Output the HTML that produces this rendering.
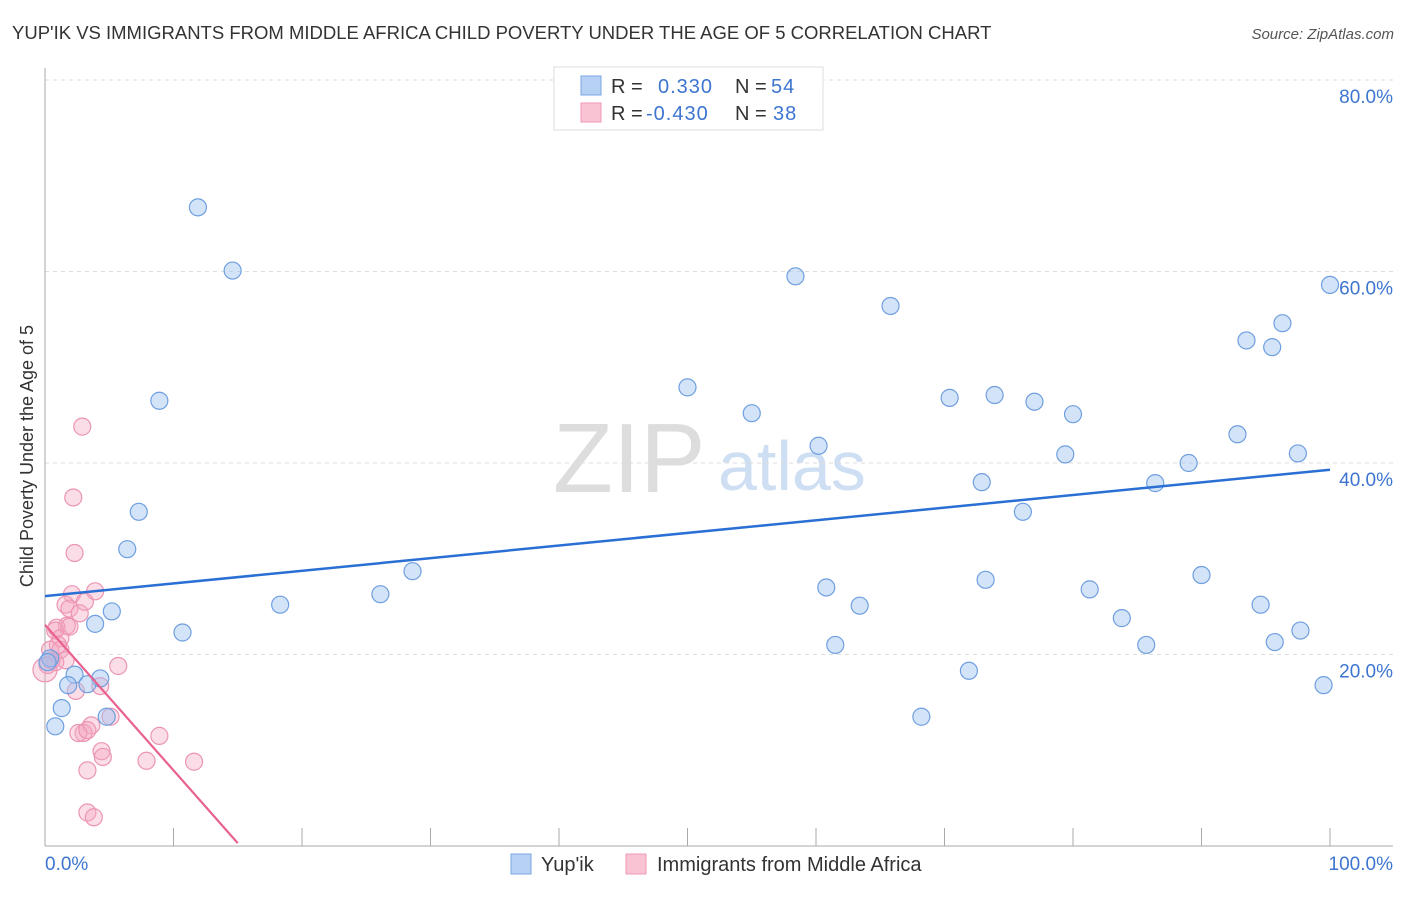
<!DOCTYPE html>
<html><head><meta charset="utf-8"><style>
body{margin:0;background:#fff;font-family:"Liberation Sans",sans-serif;}
svg text{font-family:"Liberation Sans",sans-serif;}
</style></head><body>
<svg id="chart" width="1406" height="892" xmlns="http://www.w3.org/2000/svg">
<text x="12" y="39" font-size="18.5" fill="#333">YUP'IK VS IMMIGRANTS FROM MIDDLE AFRICA CHILD POVERTY UNDER THE AGE OF 5 CORRELATION CHART</text>
<text x="1394" y="39" font-size="15" fill="#555" font-style="italic" text-anchor="end">Source: ZipAtlas.com</text>
<g>
<text x="553" y="492" font-size="98" fill="#ddd" font-family="Liberation Serif, serif">ZIP</text>
<text x="718" y="490" font-size="70" fill="#cfdff3">atlas</text>
</g>
<g id="grid"></g>
<g id="axes"></g>
<g id="pts"></g>
<g id="lines"></g>
<text transform="translate(33,456) rotate(-90)" font-size="18" fill="#333" text-anchor="middle">Child Poverty Under the Age of 5</text>
<g>
<rect x="554" y="67" width="269" height="63" fill="#fff" stroke="#ddd"/>
<rect x="581" y="76" width="20" height="19" fill="#b7d1f5" stroke="#7aa5e3"/>
<rect x="581" y="103" width="20" height="19" fill="#fac3d4" stroke="#ee9ab7"/>
<text x="611" y="93" font-size="20" fill="#333">R =</text>
<text x="658" y="93" font-size="20" fill="#3d75d0" letter-spacing="1">0.330</text>
<text x="735" y="93" font-size="20" fill="#333">N =</text>
<text x="771" y="93" font-size="20" fill="#3d75d0" letter-spacing="1">54</text>
<text x="611" y="120" font-size="20" fill="#333">R =</text>
<text x="646" y="120" font-size="20" fill="#3d75d0" letter-spacing="1">-0.430</text>
<text x="735" y="120" font-size="20" fill="#333">N =</text>
<text x="773" y="120" font-size="20" fill="#3d75d0" letter-spacing="1">38</text>
</g>
<g>
<rect x="511" y="854" width="20" height="20" fill="#b7d1f5" stroke="#7aa5e3"/>
<text x="541" y="871" font-size="20" fill="#333">Yup'ik</text>
<rect x="626" y="854" width="20" height="20" fill="#fac3d4" stroke="#ee9ab7"/>
<text x="657" y="871" font-size="20" fill="#333">Immigrants from Middle Africa</text>
</g>
</svg>
<script>
const blueX=[11.9,14.6,8.9,7.3,6.4,5.2,3.9,10.7,18.3,26.1,28.6,50.0,55.0,58.4,60.2,60.8,61.5,63.4,65.8,68.2,70.4,71.9,72.9,73.2,73.9,76.1,77.0,79.4,80.0,81.3,83.8,85.7,86.4,89.0,90.0,92.8,93.5,94.6,95.5,95.7,96.3,97.5,97.7,99.5,100,2.3,4.3,3.3,1.8,4.8,1.3,0.8,0.4,0.2];
const blueY=[66.7,60.1,46.5,34.9,31.0,24.5,23.2,22.3,25.2,26.3,28.7,47.9,45.2,59.5,41.8,27.0,21.0,25.1,56.4,13.5,46.8,18.3,38.0,27.8,47.1,34.9,46.4,40.9,45.1,26.8,23.8,21.0,37.9,40.0,28.3,43.0,52.8,25.2,52.1,21.3,54.6,41.0,22.5,16.8,58.6,17.9,17.5,16.9,16.8,13.5,14.4,12.5,19.6,19.2];
const pinkX=[2.9,2.2,2.3,2.1,3.9,3.1,1.6,1.9,2.7,1.7,0.9,0.8,1.2,0.4,0.5,0.2,0.8,0,5.7,4.3,2.4,3.6,3.0,2.6,3.3,4.4,4.5,8.9,7.9,11.6,3.3,3.3,3.8,5.1,1.2,1.6,1.0,1.9];
const pinkY=[43.8,36.4,30.6,26.3,26.6,25.5,25.2,24.8,24.3,23.0,22.8,22.5,21.7,20.5,19.4,18.9,19.2,18.4,18.8,16.7,16.2,12.6,11.8,11.8,12.1,9.9,9.3,11.5,8.9,8.8,7.9,3.5,3.0,13.5,20.5,19.4,21.0,22.9];
const blueTrend=[26.1,39.3];
const pinkTrend=[23.1,0.3,15.0];
const yTicks=[20,40,60,80];
const yTickLabels=["20.0%","40.0%","60.0%","80.0%"];
const xTicks=[0,10,20,30,40,50,60,70,80,90,100];
const NS="http://www.w3.org/2000/svg";
const sx=v=>45+v*12.85, sy=v=>846-v*9.575;
function mk(t,a,p){const e=document.createElementNS(NS,t);for(const k in a)e.setAttribute(k,a[k]);p.appendChild(e);return e;}
const grid=document.getElementById('grid'),axes=document.getElementById('axes'),pts=document.getElementById('pts'),lines=document.getElementById('lines');
yTicks.forEach((t,i)=>{
 const l=mk('line',{x1:45,x2:1393,y1:sy(t),y2:sy(t),stroke:'#ddd','stroke-dasharray':'4,4'},grid);
 
 
 const tx=mk('text',{x:1393,y:sy(t)+23,'font-size':19,fill:'#3d75d0','text-anchor':'end'},axes);
 tx.textContent=yTickLabels[i];
 
 
});
let a=mk('line',{x1:45,x2:45,y1:68,y2:846,stroke:'#aaa'},axes);


a=mk('line',{x1:45,x2:1393,y1:846,y2:846,stroke:'#aaa'},axes);


xTicks.forEach(t=>{
 const l=mk('line',{x1:sx(t),x2:sx(t),y1:828,y2:846,stroke:'#aaa'},axes);
 
 
});
let t0=mk('text',{x:45,y:870,'font-size':19,fill:'#3d75d0'},axes);t0.textContent='0.0%';


let t1=mk('text',{x:1393,y:870,'font-size':19,fill:'#3d75d0','text-anchor':'end'},axes);t1.textContent='100.0%';


pinkX.forEach((x,i)=>{
 const c=mk('circle',{cx:sx(x),cy:sy(pinkY[i]),r:(i==17?12:8.5),fill:'rgba(245,165,192,0.38)',stroke:'#ec95b3','stroke-width':1.2},pts);
 
 
});
blueX.forEach((x,i)=>{
 const c=mk('circle',{cx:sx(x),cy:sy(blueY[i]),r:8.5,fill:'rgba(160,195,240,0.45)',stroke:'#6f9fe0','stroke-width':1.2},pts);
 
 
});
let bl=mk('line',{x1:sx(0),y1:sy(blueTrend[0]),x2:sx(100),y2:sy(blueTrend[1]),stroke:'#2a6fd4','stroke-width':2.5},lines);


let pl=mk('line',{x1:sx(0),y1:sy(pinkTrend[0]),x2:sx(pinkTrend[2]),y2:sy(pinkTrend[1]),stroke:'#e8628e','stroke-width':2.2},lines);


</script>
</body></html>
